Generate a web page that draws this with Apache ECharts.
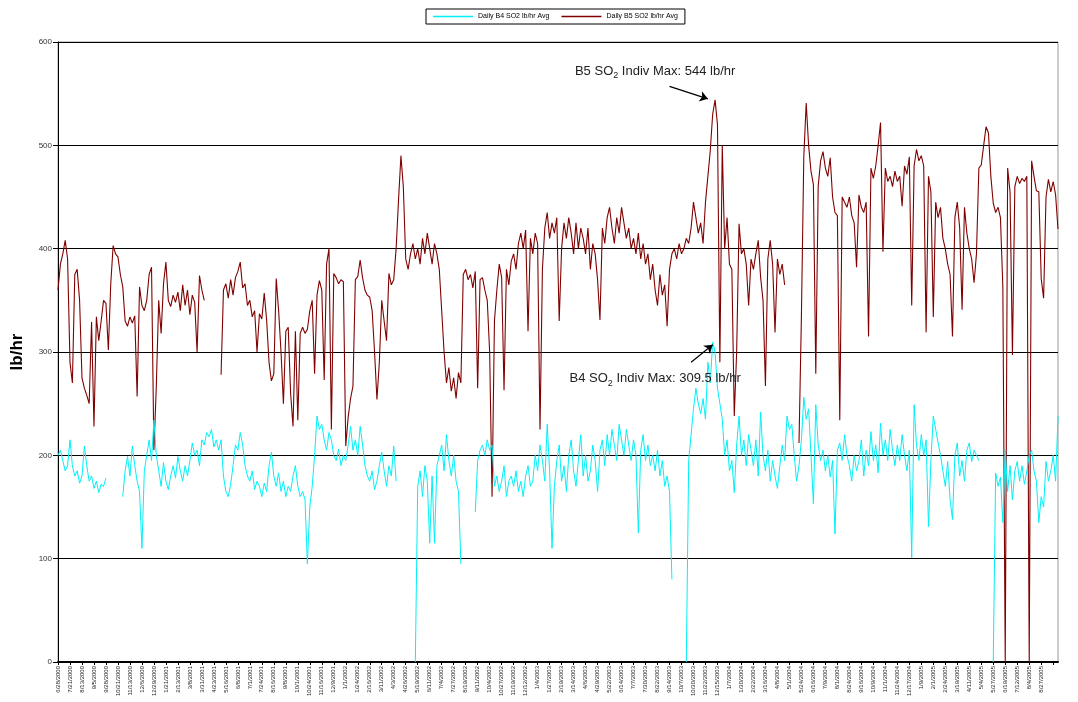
<!DOCTYPE html>
<html>
<head>
<meta charset="utf-8">
<script src="https://cdn.jsdelivr.net/npm/echarts@6/dist/echarts.min.js"></script>
<style>
html,body{margin:0;padding:0;background:#fff;}
#chart{width:1078px;height:702px;}
</style>
</head>
<body>
<div id="chart"></div>
<script>
// Daily B4 SO2 lb/hr Avg (sampled along the category axis)
const b4 = [200,205,195,185,190,215,190,180,185,173,
180,209,190,175,180,168,175,164,172,170,
178,null,null,null,null,null,null,160,185,199,
180,209,190,175,165,110,185,200,215,195,
234,200,185,170,193,175,167,180,190,178,
199,185,175,190,180,195,212,200,205,190,
215,210,222,218,225,208,215,205,215,180,
165,160,172,190,210,205,222,210,190,180,
175,185,167,175,170,160,173,165,190,203,
180,170,183,165,175,160,170,165,180,190,
170,160,165,157,95,150,170,200,238,225,
230,215,205,222,215,200,195,206,190,200,
195,210,228,205,215,200,228,210,190,180,
175,185,167,175,190,203,185,170,190,180,
209,175,null,null,null,null,null,null,null,0,
170,185,160,190,175,115,180,115,190,200,
210,185,220,195,180,200,175,165,95,null,
null,null,null,null,145,195,205,210,200,215,
205,210,170,180,165,175,190,160,175,180,
170,185,165,175,160,180,190,170,175,200,
185,210,195,175,230,185,110,170,195,210,
175,190,165,200,215,185,170,195,220,180,
200,175,185,210,195,165,205,215,190,220,
200,225,210,195,230,215,200,225,210,195,
215,200,125,205,220,195,210,190,200,185,
205,180,195,170,180,165,80,null,null,null,
null,null,0,195,220,245,265,250,240,255,
235,290,270,309.5,300,265,250,235,200,215,
185,195,164,210,238,200,215,190,220,205,
190,215,180,242,200,185,205,175,195,180,
168,190,210,195,238,225,230,200,175,190,
215,256,235,245,200,153,249,210,195,205,
185,200,179,195,124,205,212,195,220,200,
190,175,200,185,195,215,180,205,190,223,
195,210,183,231,200,215,195,225,205,190,
210,195,220,200,185,205,101,249,210,195,
220,200,215,131,195,238,225,212,200,185,
170,194,157,138,200,212,180,195,175,205,
212,194,205,200,195,null,null,null,null,null,
0,183,170,179,135,205,165,190,157,185,
194,175,190,172,185,200,205,185,175,135,
160,150,194,175,185,200,175,238];

// Daily B5 SO2 lb/hr Avg
const b5 = [360,385,395,408,390,290,270,375,380,350,
275,265,258,250,329,228,334,311,330,350,
347,302,366,403,395,392,375,363,330,325,
334,328,335,257,363,345,340,350,375,382,
205,267,350,318,366,387,350,344,355,348,
358,340,365,345,360,336,355,348,300,374,
360,350,null,null,null,null,null,null,278,360,
366,352,370,355,372,378,387,362,366,345,
350,334,340,300,337,332,357,331,290,272,
279,371,340,300,250,320,324,260,228,320,
234,318,324,318,322,340,350,279,355,369,
360,273,385,400,225,376,372,366,370,368,
209,237,255,267,370,373,389,372,360,355,
353,340,300,254,290,350,330,311,376,365,
370,400,447,490,460,390,380,395,405,390,
400,385,410,395,415,400,385,405,395,380,
340,300,270,285,262,275,255,280,270,375,
380,370,375,362,378,265,370,372,360,350,
300,160,330,360,385,372,263,380,365,388,
395,380,405,415,400,418,320,410,395,415,
405,225,380,420,435,410,425,415,430,330,
400,425,410,430,415,395,425,400,420,410,
395,420,380,405,395,370,331,420,405,430,
440,420,405,430,415,440,425,410,420,400,
410,395,415,390,405,385,395,370,385,360,
345,375,355,365,325,380,395,400,390,405,
395,400,410,405,420,445,430,415,425,405,
445,470,495,530,544,520,290,500,400,430,
385,380,238,300,424,395,400,385,345,390,
380,395,408,372,350,267,390,408,385,319,
390,375,385,365,null,null,null,null,null,212,
334,489,541,500,475,462,279,460,485,494,
478,470,488,450,435,432,234,450,445,440,
450,432,425,382,452,440,435,445,315,478,
468,480,500,522,397,478,465,470,460,475,
465,470,441,480,472,489,345,480,496,485,
490,480,319,470,455,334,445,430,440,410,
400,385,375,315,430,445,420,341,440,415,
400,390,367,395,478,481,500,518,512,470,
444,435,440,430,363,0,478,455,297,460,
470,463,468,465,470,0,485,470,456,455,
371,352,450,467,455,465,452,419];

// x-axis tick labels (one every 5 samples)
const tickLabels = ["6/28/2000","7/21/2000","8/13/2000","9/5/2000","9/28/2000","10/21/2000","11/13/2000","12/6/2000","12/29/2000",
"1/21/2001","2/13/2001","3/8/2001","3/31/2001","4/23/2001","5/16/2001","6/8/2001","7/1/2001","7/24/2001","8/16/2001","9/8/2001","10/1/2001","10/24/2001","11/16/2001","12/9/2001",
"1/1/2002","1/24/2002","2/16/2002","3/11/2002","4/3/2002","4/26/2002","5/19/2002","6/11/2002","7/4/2002","7/27/2002","8/19/2002","9/11/2002","10/4/2002","10/27/2002","11/19/2002","12/12/2002",
"1/4/2003","1/27/2003","2/19/2003","3/14/2003","4/6/2003","4/29/2003","5/22/2003","6/14/2003","7/7/2003","7/30/2003","8/22/2003","9/14/2003","10/7/2003","10/30/2003","11/22/2003","12/15/2003",
"1/7/2004","1/30/2004","2/22/2004","3/16/2004","4/8/2004","5/1/2004","5/24/2004","6/16/2004","7/9/2004","8/1/2004","8/24/2004","9/16/2004","10/9/2004","11/1/2004","11/24/2004","12/17/2004",
"1/9/2005","2/1/2005","2/24/2005","3/19/2005","4/11/2005","5/4/2005","5/27/2005","6/19/2005","7/12/2005","8/4/2005","8/27/2005"];
const TICK_STEP = 5;

const yTicks = [0, 100, 200, 300, 400, 500, 600];

const categories = b5.map((_, i) => String(i));

const FONT = 'Arial, "Liberation Sans", sans-serif';
const chart = echarts.init(document.getElementById('chart'), null, {renderer: 'canvas'});

const option = {
  animation: false,
  backgroundColor: '#fff',
  legend: {
    top: 9,
    left: 426,
    orient: 'horizontal',
    borderColor: '#000',
    borderWidth: 1,
    padding: [4, 7, 4, 7],
    itemGap: 12,
    itemWidth: 40,
    itemHeight: 1.5,
    icon: 'rect',
    textStyle: {fontSize: 7, color: '#000', fontFamily: FONT},
    data: ['Daily B4 SO2 lb/hr Avg', 'Daily B5 SO2 lb/hr Avg']
  },
  grid: {
    left: 58, right: 20, top: 42, bottom: 40,
    show: true, borderColor: '#999', borderWidth: 1, backgroundColor: 'transparent'
  },
  xAxis: {
    type: 'category',
    data: categories,
    boundaryGap: false,
    axisLine: {show: true, lineStyle: {color: '#000', width: 2}},
    axisTick: {show: true, interval: TICK_STEP - 1, length: 3, lineStyle: {color: '#000'}},
    axisLabel: {
      interval: TICK_STEP - 1,
      rotate: 90,
      fontSize: 6,
      margin: 4,
      color: '#222',
      fontFamily: FONT,
      formatter: function (v, idx) {
        return (idx % TICK_STEP === 0 && tickLabels[idx / TICK_STEP]) ? tickLabels[idx / TICK_STEP] : '';
      }
    },
    splitLine: {show: false}
  },
  yAxis: {
    type: 'value',
    min: yTicks[0],
    max: yTicks[yTicks.length - 1],
    interval: 100,
    name: 'lb/hr',
    nameLocation: 'middle',
    nameRotate: 90,
    nameGap: 32,
    nameTextStyle: {fontSize: 17, fontWeight: 'bold', color: '#000', fontFamily: FONT},
    axisLine: {show: true, lineStyle: {color: '#000', width: 1}},
    axisTick: {show: true, length: 5, lineStyle: {color: '#000'}},
    axisLabel: {fontSize: 8, color: '#333', margin: 6, fontFamily: FONT},
    splitLine: {show: true, lineStyle: {color: '#000', width: 1}}
  },
  series: [
    {
      name: 'Daily B4 SO2 lb/hr Avg',
      type: 'line',
      data: b4,
      symbol: 'none',
      connectNulls: false,
      lineStyle: {color: '#00F0F8', width: 1},
      itemStyle: {color: '#00F0F8'},
      z: 3,
      markLine: {
        silent: true,
        symbol: ['none', 'arrow'],
        symbolSize: 8,
        label: {show: false},
        lineStyle: {color: '#000', width: 1.2, type: 'solid'},
        data: [[{coord: [263.5, 290]}, {coord: [272.5, 307]}]]
      },
      markPoint: {
        silent: true,
        symbol: 'circle',
        symbolSize: 0,
        label: {
          show: true,
          position: 'inside',
          formatter: '{a|B4 SO}{s|2}{a| Indiv Max: 309.5 lb/hr}',
          rich: {
            a: {fontSize: 13, color: '#222', fontFamily: FONT, lineHeight: 18},
            s: {fontSize: 9, color: '#222', fontFamily: FONT, verticalAlign: 'bottom', lineHeight: 18}
          }
        },
        data: [{coord: [249, 274]}]
      }
    },
    {
      name: 'Daily B5 SO2 lb/hr Avg',
      type: 'line',
      data: b5,
      symbol: 'none',
      connectNulls: false,
      lineStyle: {color: '#800000', width: 1.1},
      itemStyle: {color: '#800000'},
      z: 2,
      markLine: {
        silent: true,
        symbol: ['none', 'arrow'],
        symbolSize: 8,
        label: {show: false},
        lineStyle: {color: '#000', width: 1.2, type: 'solid'},
        data: [[{coord: [255, 557]}, {coord: [270.5, 545]}]]
      },
      markPoint: {
        silent: true,
        symbol: 'circle',
        symbolSize: 0,
        label: {
          show: true,
          position: 'inside',
          formatter: '{a|B5 SO}{s|2}{a| Indiv Max: 544 lb/hr}',
          rich: {
            a: {fontSize: 13, color: '#222', fontFamily: FONT, lineHeight: 18},
            s: {fontSize: 9, color: '#222', fontFamily: FONT, verticalAlign: 'bottom', lineHeight: 18}
          }
        },
        data: [{coord: [249, 572]}]
      }
    }
  ]
};
if (b4.length !== b5.length) {
  option.title = {text: 'LEN b4=' + b4.length + ' b5=' + b5.length, left: 200, top: 100};
}
chart.setOption(option);
</script>
</body>
</html>
